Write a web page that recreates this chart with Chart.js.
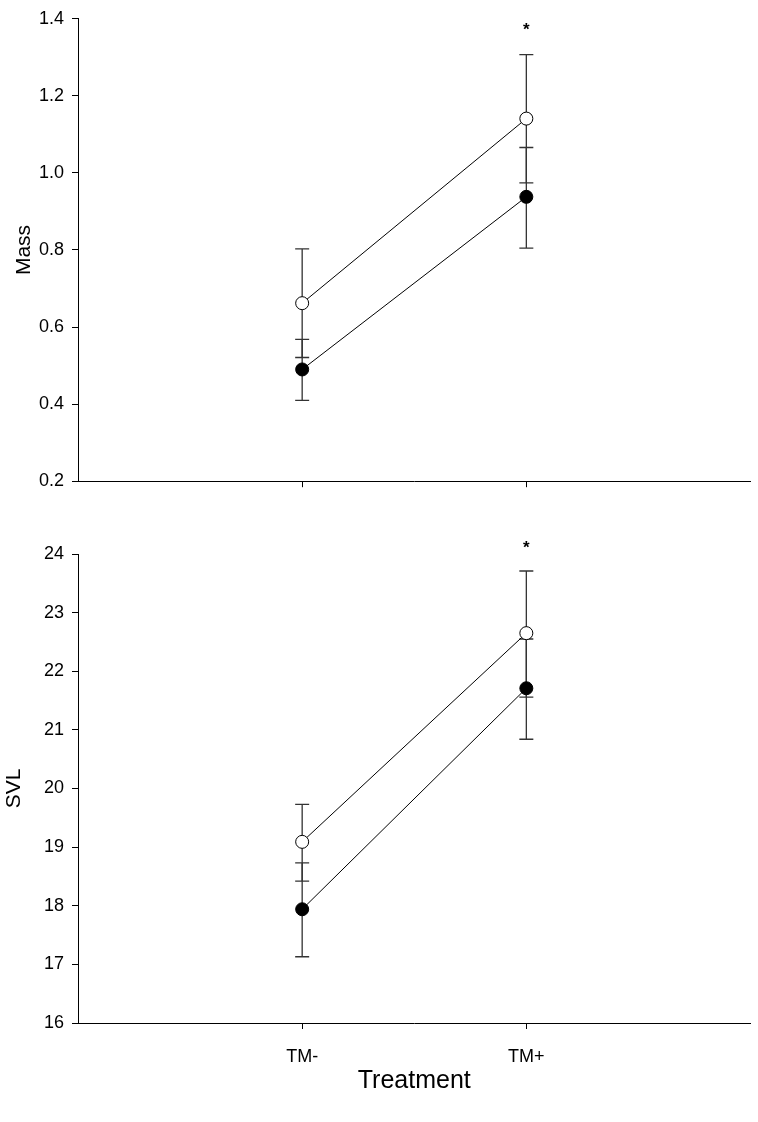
<!DOCTYPE html>
<html lang="en">
<head>
<meta charset="UTF-8" />
<title>Mass and SVL by treatment</title>
<script src="https://cdn.jsdelivr.net/npm/chart.js"></script>
<style>
  body { margin: 0; background: #fff; }
  .panel { position: absolute; left: 0; width: 758px; }
</style>
</head>
<body>
<div class="panel" style="top:0;height:500px"><canvas id="massChart"></canvas></div>
<div class="panel" style="top:520px;height:602px"><canvas id="svlChart"></canvas></div>

<script>
// categories on the x axis (placed at x = 1 and x = 2)
var categories = ["TM-", "TM+"];
var xVals = [1, 2];

// Mass panel (open = white circles, filled = black circles)
var massOpen = [0.662, 1.141];
var massOpenHi = [0.803, 1.307];
var massOpenLo = [0.521, 0.974];
var massFilled = [0.490, 0.938];
var massFilledHi = [0.568, 1.066];
var massFilledLo = [0.410, 0.805];
var massStar = [null, 1.37];

// SVL panel
var svlOpen = [19.09, 22.65];
var svlOpenHi = [19.73, 23.71];
var svlOpenLo = [18.42, 21.56];
var svlFilled = [17.94, 21.71];
var svlFilledHi = [18.73, 22.55];
var svlFilledLo = [17.13, 20.84];
var svlStar = [null, 24.1];

var FONT = "Arial, 'Liberation Sans', sans-serif";

function points(vals) {
  return vals.map(function (v, i) { return { x: xVals[i], y: v }; });
}

// draws the vertical error bars with caps, and the significance star
var errorBars = {
  id: "errorBars",
  beforeDatasetsDraw: function (chart, args, opts) {
    var ctx = chart.ctx;
    var xs = chart.scales.x, ys = chart.scales.y;
    ctx.save();
    ctx.strokeStyle = "#333";
    ctx.lineWidth = 1.3;
    opts.bars.forEach(function (b) {
      for (var i = 0; i < xVals.length; i++) {
        var x = xs.getPixelForValue(xVals[i]);
        var yLo = ys.getPixelForValue(b.lo[i]);
        var yHi = ys.getPixelForValue(b.hi[i]);
        ctx.beginPath();
        ctx.moveTo(x, yLo); ctx.lineTo(x, yHi);
        ctx.moveTo(x - 7, yLo); ctx.lineTo(x + 7, yLo);
        ctx.moveTo(x - 7, yHi); ctx.lineTo(x + 7, yHi);
        ctx.stroke();
      }
    });
    ctx.restore();
  },
  afterDatasetsDraw: function (chart, args, opts) {
    var ctx = chart.ctx;
    ctx.save();
    ctx.fillStyle = "#000";
    ctx.font = "bold 17px " + FONT;
    ctx.textAlign = "center";
    ctx.textBaseline = "middle";
    opts.star.forEach(function (v, i) {
      if (v === null) return;
      ctx.fillText("*", chart.scales.x.getPixelForValue(xVals[i]), chart.scales.y.getPixelForValue(v));
    });
    ctx.restore();
  }
};

function makeChart(id, cfg) {
  var datasets = [
    {
      data: points(cfg.open),
      showLine: true,
      borderColor: "#000",
      borderWidth: 1,
      pointRadius: 6.5,
      pointBorderWidth: 1,
      pointBorderColor: "#000",
      pointBackgroundColor: "#fff",
      clip: false
    },
    {
      data: points(cfg.filled),
      showLine: true,
      borderColor: "#000",
      borderWidth: 1,
      pointRadius: 6.5,
      pointBorderWidth: 1,
      pointBorderColor: "#000",
      pointBackgroundColor: "#000",
      clip: false
    }
  ];

  return new Chart(document.getElementById(id), {
    type: "scatter",
    data: { datasets: datasets },
    plugins: [errorBars],
    options: {
      responsive: true,
      maintainAspectRatio: false,
      animation: false,
      layout: { padding: { top: cfg.padTop, right: 6, left: 0, bottom: 0 } },
      plugins: {
        legend: { display: false },
        tooltip: { enabled: false },
        errorBars: { bars: cfg.bars, star: cfg.star }
      },
      scales: {
        x: {
          type: "linear",
          min: 0,
          max: 3,
          afterBuildTicks: function (scale) {
            scale.ticks = xVals.map(function (v) { return { value: v }; });
          },
          afterFit: function (scale) { scale.height = cfg.xHeight; },
          grid: { drawOnChartArea: false, tickLength: 6, color: "#000" },
          border: { color: "#000", width: 1 },
          ticks: {
            padding: 17,
            color: "#000",
            font: { family: FONT, size: 18 },
            callback: function (v) {
              if (!cfg.showX) return "";
              return categories[xVals.indexOf(v)];
            }
          },
          title: {
            display: cfg.showX,
            text: "Treatment",
            color: "#000",
            font: { family: FONT, size: 25 },
            padding: { top: 0, bottom: 26 }
          }
        },
        y: {
          min: cfg.min,
          max: cfg.max,
          afterFit: function (scale) { scale.width = 78; },
          grid: { drawOnChartArea: false, tickLength: 6, color: "#000" },
          border: { color: "#000", width: 1 },
          ticks: {
            stepSize: cfg.step,
            padding: 8,
            color: "#000",
            font: { family: FONT, size: 18 },
            callback: function (v) { return v.toFixed(cfg.digits); }
          },
          title: {
            display: true,
            text: cfg.title,
            color: "#000",
            font: { family: FONT, size: 21 },
            padding: { top: cfg.titlePad, bottom: 0 }
          }
        }
      }
    }
  });
}

makeChart("massChart", {
  open: massOpen,
  filled: massFilled,
  bars: [
    { lo: massOpenLo, hi: massOpenHi },
    { lo: massFilledLo, hi: massFilledHi }
  ],
  star: massStar,
  min: 0.2, max: 1.4, step: 0.2, digits: 1,
  title: "Mass", titlePad: 12,
  padTop: 13, xHeight: 18, showX: false
});

makeChart("svlChart", {
  open: svlOpen,
  filled: svlFilled,
  bars: [
    { lo: svlOpenLo, hi: svlOpenHi },
    { lo: svlFilledLo, hi: svlFilledHi }
  ],
  star: svlStar,
  min: 16, max: 24, step: 1, digits: 0,
  title: "SVL", titlePad: 2,
  padTop: 34, xHeight: 99, showX: true
});
</script>
</body>
</html>
